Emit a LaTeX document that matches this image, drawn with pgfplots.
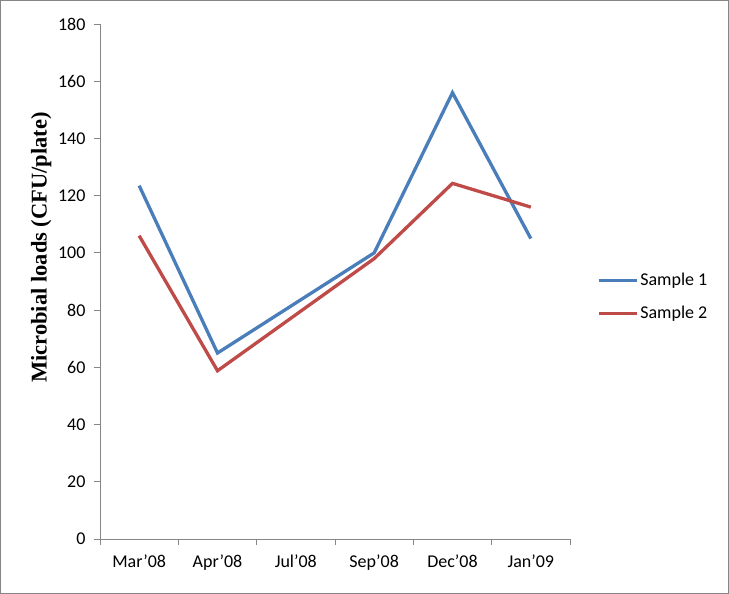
\documentclass[border=0pt]{standalone}
\usepackage{fontspec}
\setmainfont{Carlito}
\newfontfamily\timesb{Liberation Serif}
\usepackage{pgfplots}
\pgfplotsset{compat=1.18}
\definecolor{sblue}{HTML}{4A7EBB}
\definecolor{sred}{HTML}{BE4B48}
\definecolor{axgray}{HTML}{868686}
\begin{document}
\begin{tikzpicture}[x=1pt,y=1pt]
\draw[axgray,line width=1pt] (0.5,0.5) rectangle (728.5,593.5);
\begin{axis}[
  at={(100pt,55pt)}, anchor=south west,
  scale only axis, width=470pt, height=515pt,
  xmin=-0.5, xmax=5.5, ymin=0, ymax=180,
  axis lines=left, axis line style={-, axgray, line width=0.8pt},
  xtick={0,...,5},
  xticklabels={Mar'08,Apr'08,Jul'08,Sep'08,Dec'08,Jan'09},
  minor xtick={-0.5,0.5,...,5.5},
  ytick={0,20,...,180},
  tick style={axgray, line width=0.8pt},
  major x tick style={draw=none},
  tick align=outside,
  major tick length=6pt, minor tick length=6pt,
  /pgf/number format/assume math mode=true,
  ticklabel style={font=\fontsize{18}{21}\selectfont, text=black},
  xticklabel style={yshift=-6pt},
  yticklabel style={xshift=-5pt},
  ylabel={\timesb\bfseries Microbial loads (CFU/plate)},
  ylabel style={font=\fontsize{22.5}{26}\selectfont, at={(axis description cs:-0.125,0.566)}, anchor=center},
  legend style={draw=none, at={(1.057,0.47)}, anchor=west, row sep=15pt,
    font=\fontsize{18}{21}\selectfont, inner sep=0pt},
  legend cell align=left,
  legend image code/.code={\draw[#1] (0pt,0pt) -- (38pt,0pt);},
]
\addplot[sblue, line width=3.3pt] coordinates {
  (0,123.5) (1,65) (2,82.5) (3,100) (4,156) (5,105)};
\addlegendentry{Sample 1}
\addplot[sred, line width=3.3pt] coordinates {
  (0,106) (1,58.8) (2,78.4) (3,98) (4,124.3) (5,116)};
\addlegendentry{Sample 2}
\end{axis}
\end{tikzpicture}
\end{document}
